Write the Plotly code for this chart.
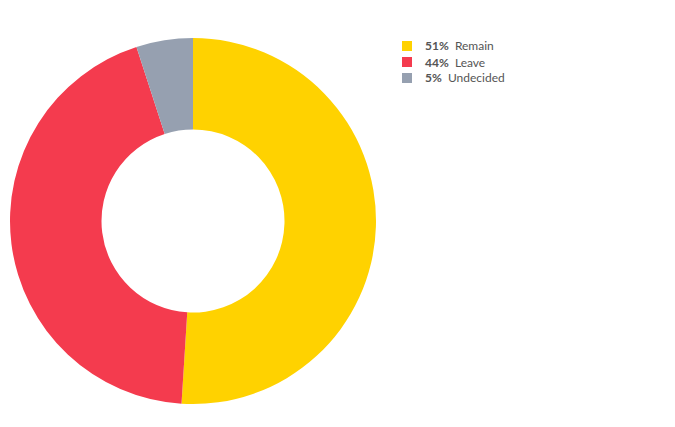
import plotly.graph_objects as go

labels = ["Remain", "Leave", "Undecided"]
values = [51, 44, 5]
colors = ["#FFD200", "#F43B4E", "#96A0B0"]

W, H = 675, 427
OFF = 8  # page body margin offset
cx, cy, r = 193 - OFF, 221 - OFF, 183

fig = go.Figure(go.Pie(
    labels=labels,
    values=values,
    marker=dict(colors=colors, line=dict(width=0)),
    hole=0.5,
    sort=False,
    direction="clockwise",
    rotation=0,
    textinfo="none",
    hoverinfo="label+percent",
    showlegend=False,
    domain=dict(x=[(cx - r) / W, (cx + r) / W], y=[(H - cy - r) / H, (H - cy + r) / H]),
))

# custom legend
lx0, lsq, ltx = 402 - OFF, 10, 423 - OFF
ly0, lstep = 46 - OFF, 16
for i, (lab, val, col) in enumerate(zip(labels, values, colors)):
    yc = ly0 + i * lstep
    fig.add_shape(type="rect", xref="paper", yref="paper",
                  x0=lx0 / W, x1=(lx0 + lsq) / W,
                  y0=(H - yc - lsq / 2) / H, y1=(H - yc + lsq / 2) / H,
                  fillcolor=col, line=dict(width=0))
    fig.add_annotation(xref="paper", yref="paper", x=ltx / W, y=(H - yc) / H,
                       xanchor="left", yanchor="middle", showarrow=False,
                       text=f"<b>{val}%</b>  {lab}",
                       font=dict(family="Lato", size=12, color="#555555"))

fig.update_layout(
    width=W, height=H,
    margin=dict(l=0, r=0, t=0, b=0),
    paper_bgcolor="white",
    font=dict(family="Lato", size=12, color="#555555"),
    showlegend=False,
)

fig.write_html("out.html")
